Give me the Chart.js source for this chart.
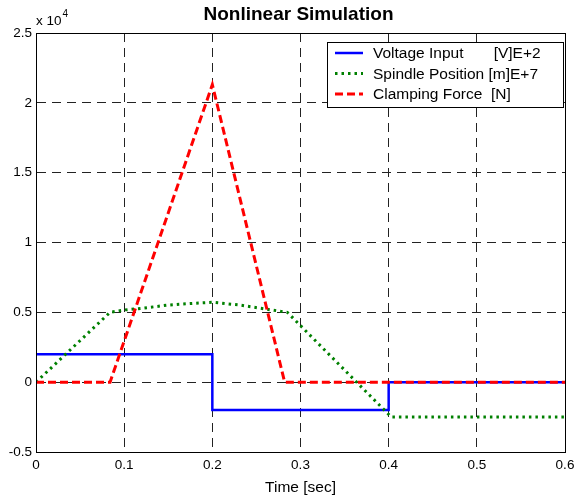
<!DOCTYPE html>
<html>
<head>
<meta charset="utf-8">
<script src="https://cdn.jsdelivr.net/npm/chart.js@4"></script>
<style>
  body { margin: 0; background: #fff; }
</style>
</head>
<body>
<canvas id="sim" width="576" height="498"></canvas>
<script>
// values (y in raw units, axis shows x 10^4)
var voltageTime = [0, 0.2, 0.2, 0.4, 0.4, 0.6];
var voltageValues = [2000, 2000, -2000, -2000, 0, 0];

var spindleTime = [0, 0.084, 0.1, 0.12, 0.15, 0.18, 0.2, 0.23, 0.255, 0.285, 0.403, 0.6];
var spindleValues = [0, 5000, 5170, 5290, 5520, 5650, 5720, 5530, 5290, 5000, -2500, -2500];

var forceTime = [0, 0.084, 0.2, 0.282, 0.6];
var forceValues = [0, 0, 21300, 0, 0];

var seriesLabels = [
  "Voltage Input       [V]E+2",
  "Spindle Position [m]E+7",
  "Clamping Force  [N]",
];

var xTicks = [0, 0.1, 0.2, 0.3, 0.4, 0.5, 0.6];
var yTicks = [-5000, 0, 5000, 10000, 15000, 20000, 25000];

const toPoints = (xs, ys) => xs.map((x, i) => ({ x: x, y: ys[i] }));

const FONT = "'Liberation Sans', Arial, sans-serif";

// box, title, exponent and legend drawn the matlab way
const matlabDecor = {
  id: "matlabDecor",
  afterDatasetsDraw(chart) {
    const ctx = chart.ctx;
    const a = chart.chartArea;
    ctx.save();

    ctx.strokeStyle = "#000";
    ctx.lineWidth = 1;
    ctx.setLineDash([]);
    ctx.strokeRect(a.left + 0.5, a.top + 0.5, a.right - a.left, a.bottom - a.top);

    ctx.fillStyle = "#000";
    ctx.font = "bold 19px " + FONT;
    ctx.textAlign = "center";
    ctx.textBaseline = "middle";
    ctx.fillText("Nonlinear Simulation", (a.left + a.right) / 2 - 2, 15);

    ctx.font = "13.5px " + FONT;
    ctx.textAlign = "left";
    ctx.textBaseline = "alphabetic";
    ctx.fillText("x 10", a.left, 25);
    var w = ctx.measureText("x 10").width;
    ctx.font = "10px " + FONT;
    ctx.fillText("4", a.left + w + 1, 17);

    // legend
    var lx = a.right - 238, ly = a.top + 9, lw = 236, lh = 65;
    ctx.fillStyle = "#fff";
    ctx.fillRect(lx, ly, lw, lh);
    ctx.strokeStyle = "#000";
    ctx.strokeRect(lx + 0.5, ly + 0.5, lw, lh);

    ctx.font = "15.5px " + FONT;
    ctx.textBaseline = "middle";
    chart.data.datasets.forEach((ds, i) => {
      var yy = ly + 11 + i * 20.5;
      ctx.strokeStyle = ds.borderColor;
      ctx.lineWidth = ds.borderWidth;
      ctx.setLineDash(ds.borderDash || []);
      ctx.beginPath();
      ctx.moveTo(lx + 8, yy);
      ctx.lineTo(lx + 36, yy);
      ctx.stroke();
      ctx.fillStyle = "#000";
      ctx.fillText(ds.label, lx + 46, yy + 1);
    });

    ctx.restore();
  },
};

const config = {
  type: "line",
  data: {
    datasets: [
      {
        label: seriesLabels[0],
        data: toPoints(voltageTime, voltageValues),
        borderColor: "#0000ff",
        borderWidth: 2.5,
        order: 2,
      },
      {
        label: seriesLabels[1],
        data: toPoints(spindleTime, spindleValues),
        borderColor: "#008000",
        borderWidth: 3,
        borderDash: [2.5, 4],
        order: 1,
      },
      {
        label: seriesLabels[2],
        data: toPoints(forceTime, forceValues),
        borderColor: "#ff0000",
        borderWidth: 3,
        borderDash: [8, 4],
        order: 0,
      },
    ],
  },
  options: {
    responsive: false,
    animation: false,
    events: [],
    elements: { point: { radius: 0 }, line: { tension: 0 } },
    layout: { padding: { left: 0, top: 33, right: 11, bottom: 0 } },
    plugins: {
      legend: { display: false },
      tooltip: { enabled: false },
      title: { display: false },
    },
    scales: {
      x: {
        type: "linear",
        min: 0,
        max: 0.6,
        afterFit: (s) => {
          s.height = 46;
          s.paddingLeft = 0;
          s.paddingRight = 0;
        },
        afterBuildTicks: (s) => { s.ticks = xTicks.map((v) => ({ value: v })); },
        ticks: {
          color: "#000",
          padding: 5,
          maxRotation: 0,
          font: { family: FONT, size: 13.5 },
          callback: (v) => String(Number(v.toFixed(1))),
        },
        grid: { color: "#222", lineWidth: 1, drawTicks: false },
        border: { color: "#000", width: 1, dash: [9, 6] },
        title: {
          display: true,
          text: "Time [sec]",
          color: "#000",
          font: { family: FONT, size: 15.5 },
          padding: { top: 0, bottom: 1 },
        },
      },
      y: {
        min: -5000,
        max: 25000,
        afterFit: (s) => {
          s.width = 36;
          s.paddingTop = 0;
          s.paddingBottom = 0;
        },
        afterBuildTicks: (s) => { s.ticks = yTicks.map((v) => ({ value: v })); },
        ticks: {
          color: "#000",
          padding: 4,
          font: { family: FONT, size: 13.5 },
          callback: (v) => String(v / 10000),
        },
        grid: { color: "#222", lineWidth: 1, drawTicks: false },
        border: { color: "#000", width: 1, dash: [9, 6] },
      },
    },
  },
  plugins: [matlabDecor],
};

new Chart(document.getElementById("sim").getContext("2d"), config);
</script>
</body>
</html>
